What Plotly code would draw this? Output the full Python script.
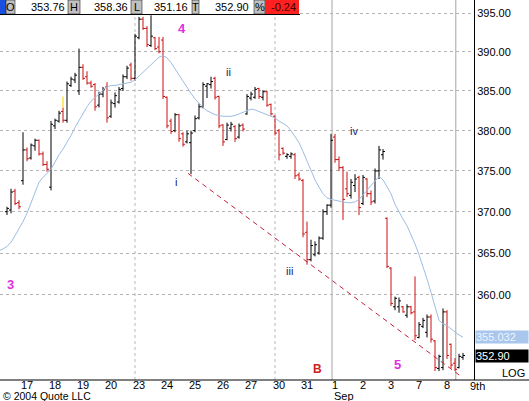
import math
import plotly.graph_objects as go

# ---------------- data ----------------
# Hourly bars: last 4 bars of Aug 16, then Aug 17 ... Sep 8 2004 (7 bars per day)
opens = [370.0, 370.2, 372.5, 371.1,
         373.8, 377.6, 376.6, 378.1, 378.8, 377.1, 375.8,
         373.0, 380.6, 381.2, 382.4, 381.3, 385.7, 386.4,
         385.0, 388.0, 386.8, 386.0, 385.8, 383.2, 384.6,
         385.5, 381.8, 383.4, 383.6, 385.3, 386.8, 388.3,
         386.6, 391.8, 394.2, 393.0, 390.8, 391.8, 390.6,
         391.5, 384.2, 381.2, 380.0, 382.0, 379.6, 378.6,
         378.5, 380.0, 381.6, 383.0, 385.6, 385.8, 386.6,
         384.3, 380.7, 378.9, 380.3, 380.5, 379.2, 380.7,
         382.1, 384.1, 384.2, 385.3, 384.2, 384.9, 383.3,
         381.8, 380.0, 377.8, 376.8, 376.8, 377.0, 374.5,
         373.8, 367.5, 364.2, 364.8, 365.0, 366.8, 370.0,
         370.8, 379.2, 376.4, 375.4, 372.8, 372.0, 373.2,
         374.2, 371.0, 374.0, 372.2, 371.3, 375.0, 377.0,
         369.2, 363.2, 358.6, 358.6, 358.6, 357.6, 358.6,
         358.0, 355.0, 356.3, 355.6, 357.4, 354.6, 351.4,
         351.5, 358.0, 354.2, 352.0, 351.5, 352.7]
highs = [370.6, 372.8, 372.8, 371.4,
         379.8, 377.9, 378.4, 379.0, 378.9, 377.4, 376.2,
         381.2, 381.5, 382.5, 382.9, 386.2, 386.8, 387.3,
         390.4, 388.4, 387.5, 386.3, 386.0, 384.9, 385.5,
         386.1, 383.9, 384.8, 385.5, 387.1, 388.2, 388.6,
         392.3, 394.5, 394.5, 393.3, 394.7, 391.9, 391.9,
         391.9, 384.3, 381.5, 382.2, 382.1, 379.8, 380.0,
         380.0, 381.9, 383.4, 386.1, 386.0, 386.8, 386.8,
         384.4, 380.8, 381.0, 381.1, 380.7, 380.9, 380.9,
         384.6, 384.9, 385.5, 385.4, 385.1, 385.0, 383.4,
         381.9, 380.2, 377.9, 377.2, 377.3, 377.2, 374.8,
         374.0, 368.8, 366.6, 366.4, 367.0, 370.3, 370.9,
         379.6, 379.6, 376.8, 375.6, 374.9, 374.0, 374.6,
         374.4, 374.5, 374.1, 372.6, 375.3, 378.1, 377.7,
         369.3, 363.3, 359.8, 359.7, 358.7, 358.9, 358.7,
         362.2, 356.8, 357.3, 357.7, 357.7, 354.7, 353.0,
         358.4, 358.2, 354.3, 352.6, 353.1, 353.2]
lows = [369.6, 369.8, 370.8, 370.3,
        373.3, 376.2, 376.4, 377.5, 376.9, 375.6, 374.9,
        372.6, 380.2, 381.0, 381.0, 381.0, 385.5, 386.0,
        384.5, 386.4, 385.8, 385.4, 382.5, 382.9, 384.2,
        381.0, 381.6, 382.9, 383.4, 385.0, 386.5, 386.3,
        386.3, 391.6, 392.8, 390.6, 390.6, 390.2, 389.8,
        384.0, 380.3, 379.6, 379.8, 378.6, 378.0, 378.4,
        374.6, 379.8, 381.4, 382.8, 384.1, 385.3, 383.9,
        380.3, 378.1, 378.8, 379.9, 378.6, 379.0, 379.9,
        382.0, 383.8, 384.0, 384.0, 383.8, 383.0, 381.9,
        379.4, 376.3, 377.0, 376.5, 376.5, 374.0, 373.8,
        366.9, 363.6, 364.0, 364.6, 364.8, 366.6, 369.6,
        370.5, 376.0, 375.0, 369.0, 371.8, 371.6, 372.4,
        369.6, 370.8, 371.8, 370.8, 371.0, 374.0, 376.4,
        363.2, 358.7, 358.2, 357.9, 357.9, 357.3, 357.7,
        354.7, 354.9, 356.1, 355.0, 354.4, 351.1, 351.1,
        351.2, 352.5, 351.4, 351.1, 351.4, 352.4]
closes = [370.4, 372.4, 371.0, 370.6,
          377.6, 376.5, 378.2, 378.8, 377.1, 375.8, 375.2,
          380.8, 381.3, 382.2, 381.3, 385.9, 386.5, 387.0,
          388.0, 386.6, 386.0, 385.6, 383.0, 384.6, 385.2,
          381.6, 383.5, 384.4, 385.2, 386.8, 387.9, 386.6,
          392.0, 394.2, 393.0, 390.9, 392.0, 390.4, 390.0,
          384.3, 380.6, 379.9, 382.0, 379.0, 378.3, 379.6,
          379.7, 381.5, 383.0, 385.8, 385.9, 386.2, 384.2,
          380.6, 378.6, 380.7, 380.8, 379.0, 380.6, 380.2,
          384.3, 384.6, 385.2, 384.3, 384.9, 383.2, 382.1,
          379.7, 377.0, 377.2, 377.0, 377.1, 374.4, 374.0,
          367.3, 364.2, 365.9, 366.0, 366.8, 370.0, 370.8,
          378.8, 376.4, 375.4, 371.5, 372.2, 373.6, 374.0,
          370.5, 374.2, 372.2, 371.2, 375.0, 377.6, 377.4,
          363.4, 359.0, 359.6, 359.3, 358.0, 358.6, 357.9,
          355.2, 356.5, 357.0, 357.4, 354.8, 351.5, 352.8,
          358.0, 352.9, 351.8, 351.3, 352.8, 352.9]

# light-blue moving average, one value per bar, starting two bars before the first visible bar
ma_values = [365.3, 365.5,
             365.8, 366.3, 367.1, 367.9,
             368.8, 369.8, 371.0, 372.4, 373.6, 374.2, 374.7,
             375.2, 376.1, 377.0, 377.7, 378.5, 379.4, 380.4,
             381.3, 382.2, 383.0, 383.7, 384.2, 384.7, 385.1,
             385.5, 385.7, 385.7, 385.8, 385.9, 386.0, 386.1,
             386.4, 386.9, 387.4, 387.8, 388.3, 388.8, 389.3,
             389.5, 389.2, 388.6, 387.8, 387.0, 386.3, 385.4,
             384.7, 384.0, 383.4, 382.9, 382.5, 382.2, 382.0,
             381.9, 381.8, 381.8, 381.8, 381.9, 382.1, 382.3,
             382.6, 382.7, 382.6, 382.4, 382.2, 382.1, 381.9,
             381.6, 381.2, 380.9, 380.6, 380.0, 379.3, 378.5,
             377.4, 376.2, 375.0, 373.9, 373.0, 372.2, 371.7,
             371.5, 371.4, 371.3, 371.2, 371.1, 371.1, 371.2,
             371.5, 372.0, 372.6, 373.2, 373.8, 374.3, 373.9,
             373.1, 372.2, 370.9, 369.9, 369.1, 368.3, 367.3,
             366.1, 364.8, 363.4, 361.9, 360.3, 358.6, 357.0,
             356.6, 356.4, 356.0, 355.6, 355.3, 355.03]
ma_last = 355.032

day_labels = ["17", "18", "19", "20", "23", "24", "25", "26", "27", "30", "31",
              "1", "2", "3", "7", "8"]
month_label = ("1", "Sep")
next_day_label = "9th"
week_start_days = ["23", "30"]          # dotted week separators
marked_days = ["1"]                     # solid grey time line at day start
extra_time_line = 112.2                 # solid grey time line (bar position)

price_ticks = [360, 365, 370, 375, 380, 385, 390, 395]

# analyst trend line (bar position, price)
trend_bar = [45.25, 113.75]
trend_price = [374.7, 350.4]

# yellow highlight mark on one bar (bar, low, high)
yellow_bar = [14, 382.9, 384.3]

wave_labels = [  # text, bar position, price, colour kind
    ("3", 0.75, 361.3, "major"),
    ("4", 43.75, 393.05, "major"),
    ("5", 97.5, 351.8, "major"),
    ("i", 42.25, 373.6, "minor"),
    ("ii", 55.25, 387.4, "minor"),
    ("iii", 70.5, 362.9, "minor"),
    ("iv", 86.75, 380.0, "minor"),
    ("B", 77.5, 351.3, "b"),
]

header_values = {"O": "353.76", "H": "358.36", "L": "351.16", "T": "352.90"}
header_pct = "-0.24"

# ---------------- layout geometry ----------------
W, H = 529, 401
ML, MR, MT, MB = 0, 55, 0, 21
PW, PH = W - ML - MR, H - MT - MB   # 474 x 380

def px(x):
    return x / PW

def py(y):
    return (PH - y) / PH

FONT = "Arial, Liberation Sans, sans-serif"
RED = "#cc1010"

bars_shown_before = 4
bars_per_day = 7
first_bar = {lab: bars_shown_before + bars_per_day * d for d, lab in enumerate(day_labels)}
tickvals = [first_bar[lab] + 1 for lab in day_labels]

x = list(range(len(opens)))
ma_x = list(range(-2, -2 + len(ma_values)))

fig = go.Figure()

fig.add_trace(go.Scatter(x=ma_x, y=ma_values, mode="lines",
                         line=dict(color="#9dbde2", width=1), hoverinfo="skip"))

fig.add_trace(go.Ohlc(x=x, open=opens, high=highs, low=lows, close=closes,
                      increasing=dict(line=dict(color="black", width=1)),
                      decreasing=dict(line=dict(color=RED, width=1)),
                      tickwidth=0.5))

fig.add_trace(go.Scatter(x=[yellow_bar[0], yellow_bar[0]], y=yellow_bar[1:], mode="lines",
                         line=dict(color="#ffe040", width=1.5), hoverinfo="skip"))

fig.add_trace(go.Scatter(x=trend_bar, y=trend_price, mode="lines",
                         line=dict(color="#c8203c", width=1, dash="5px,4px"),
                         hoverinfo="skip"))

shapes = []
for lab in week_start_days:
    xv = first_bar[lab]
    shapes.append(dict(type="line", xref="x", yref="paper", x0=xv, x1=xv, y0=0, y1=1,
                       line=dict(color="#b8b8b8", width=1, dash="dot"), layer="below"))
for xv in [first_bar[lab] + 0.25 for lab in marked_days] + [extra_time_line]:
    shapes.append(dict(type="line", xref="x", yref="paper", x0=xv, x1=xv, y0=0, y1=1,
                       line=dict(color="#a4a4a4", width=1), layer="below"))

# bottom axis line across the whole width
shapes.append(dict(type="line", xref="paper", yref="paper", x0=0, x1=W / PW, y0=0, y1=0,
                   line=dict(color="black", width=1)))

# header strip
shapes.append(dict(type="rect", xref="paper", yref="paper", x0=px(0), x1=px(300),
                   y0=py(14), y1=py(0), fillcolor="white", line=dict(width=0), layer="above"))
shapes.append(dict(type="rect", xref="paper", yref="paper", x0=px(0), x1=px(6),
                   y0=py(14), y1=py(0), fillcolor="#1a50e0", line=dict(width=0), layer="above"))
gray_boxes = [(6, 15), (68, 80), (131, 142), (192, 199), (254, 265)]
for a, b in gray_boxes:
    shapes.append(dict(type="rect", xref="paper", yref="paper", x0=px(a), x1=px(b),
                       y0=py(14), y1=py(0), fillcolor="#c0c0c0",
                       line=dict(color="black", width=0.5), layer="above"))
shapes.append(dict(type="rect", xref="paper", yref="paper", x0=px(265), x1=px(299),
                   y0=py(14), y1=py(0), fillcolor="#ff2020", line=dict(width=0), layer="above"))
shapes.append(dict(type="line", xref="paper", yref="paper", x0=px(0), x1=px(300),
                   y0=py(14.5), y1=py(14.5), line=dict(color="black", width=1), layer="above"))

annotations = []
# header texts
hdr_letters = [("O", 10.5), ("H", 74), ("L", 136.5), ("T", 195.5), ("%", 259.5)]
for t, cx in hdr_letters:
    annotations.append(dict(text=t, xref="paper", yref="paper", x=px(cx), y=py(7),
                            showarrow=False, font=dict(family=FONT, size=11, color="black"),
                            xanchor="center", yanchor="middle"))
hdr_value_right = {"O": 67, "H": 130, "L": 190, "T": 251}
for k, v in header_values.items():
    annotations.append(dict(text=v, xref="paper", yref="paper", x=px(hdr_value_right[k]), y=py(7),
                            showarrow=False, font=dict(family=FONT, size=11, color="black"),
                            xanchor="right", yanchor="middle"))
annotations.append(dict(text=header_pct, xref="paper", yref="paper", x=px(298), y=py(7),
                        showarrow=False, font=dict(family=FONT, size=11, color="#400000"),
                        xanchor="right", yanchor="middle"))

# wave labels
label_style = {"major": dict(color="#e030e0", size=13, bold=True),
               "minor": dict(color="#1a1a70", size=11, bold=False),
               "b": dict(color="#d02020", size=12, bold=True)}
for text, bx, price, kind in wave_labels:
    st = label_style[kind]
    annotations.append(dict(text=f"<b>{text}</b>" if st["bold"] else text,
                            x=bx, y=math.log10(price), xref="x", yref="y",
                            showarrow=False, xanchor="center", yanchor="middle",
                            font=dict(family=FONT, size=st["size"], color=st["color"])))

# right-hand value boxes
annotations.append(dict(text=f"{ma_last:.3f}", xref="paper", yref="y", x=px(475),
                        y=math.log10(ma_last), xanchor="left", yanchor="middle", showarrow=False,
                        bgcolor="#a9c6ec", width=52, align="left", borderpad=0,
                        font=dict(family=FONT, size=11, color="#eef4ff")))
annotations.append(dict(text=f"{closes[-1]:.2f}", xref="paper", yref="y", x=px(475),
                        y=math.log10(closes[-1]), xanchor="left", yanchor="middle", showarrow=False,
                        bgcolor="black", width=52, align="left", borderpad=0,
                        font=dict(family=FONT, size=11, color="white")))
annotations.append(dict(text="LOG", xref="paper", yref="paper", x=px(527), y=py(373),
                        xanchor="right", yanchor="middle", showarrow=False,
                        font=dict(family=FONT, size=11, color="black")))
annotations.append(dict(text=next_day_label, xref="paper", yref="paper", x=px(478), y=py(385.5),
                        xanchor="center", yanchor="middle", showarrow=False,
                        font=dict(family=FONT, size=11, color="black")))
annotations.append(dict(text=month_label[1], xref="x", yref="paper",
                        x=first_bar[month_label[0]] + 0.25, y=py(396),
                        xanchor="left", yanchor="middle", showarrow=False,
                        font=dict(family=FONT, size=11, color="black")))
annotations.append(dict(text="© 2004 Quote LLC", xref="paper", yref="paper", x=px(1), y=py(396),
                        xanchor="left", yanchor="middle", showarrow=False,
                        font=dict(family=FONT, size=10.5, color="black")))

y_lo = 395 * math.exp(-(PH - 13) / 3039)
y_hi = 395 * math.exp(13 / 3039)

fig.update_layout(
    width=W, height=H,
    margin=dict(l=ML, r=MR, t=MT, b=MB, pad=0, autoexpand=False),
    paper_bgcolor="white", plot_bgcolor="white",
    showlegend=False,
    shapes=shapes, annotations=annotations,
    xaxis=dict(range=[-1.75, 116.75], showgrid=False, zeroline=False, automargin=False,
               tickmode="array", tickvals=tickvals, ticktext=day_labels,
               ticks="", ticklabelstandoff=-3,
               tickfont=dict(family=FONT, size=11, color="black"),
               showline=False, rangeslider=dict(visible=False), fixedrange=True),
    yaxis=dict(type="log", range=[math.log10(y_lo), math.log10(y_hi)], side="right",
               automargin=False,
               tickmode="array", tickvals=price_ticks,
               ticktext=[f"{v:.2f}" for v in price_ticks],
               ticks="", tickfont=dict(family=FONT, size=11, color="black"),
               showgrid=True, gridcolor="#b4b4b4", griddash="dot", gridwidth=1,
               showline=True, linecolor="black", linewidth=1, mirror=False,
               zeroline=False, fixedrange=True),
)

fig.write_html("out.html",
               config={"displayModeBar": False, "staticPlot": True},
               post_script="document.body.style.margin='0';document.body.style.padding='0';"
                           "document.body.style.overflow='hidden';")
